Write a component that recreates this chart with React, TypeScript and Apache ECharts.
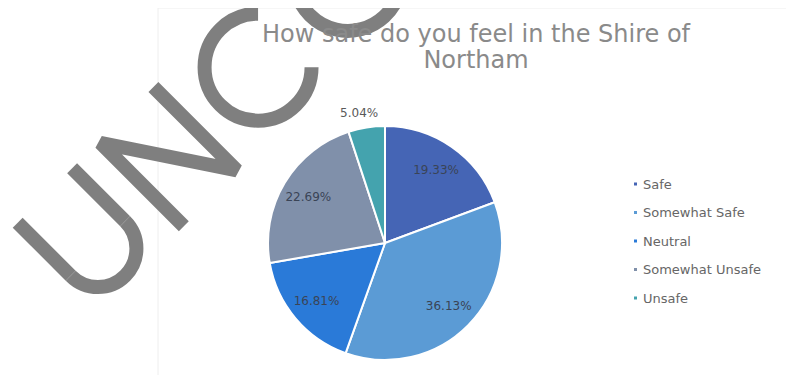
import React, { useEffect, useRef } from "react";
import * as echarts from "echarts";

const titleText = "How safe do you feel in the Shire of\nNortham";
const categories = ["Safe", "Somewhat Safe", "Neutral", "Somewhat Unsafe", "Unsafe"];
const percentages = [19.33, 36.13, 16.81, 22.69, 5.04];
const sliceColors = ["#4565b5", "#5b9bd5", "#2a7ad8", "#8090aa", "#44a3ae"];

const WM = "#7f7f7f";
const WMW = 14;

export default function App() {
  const ref = useRef<HTMLDivElement>(null);
  useEffect(() => {
    if (!ref.current) return;
    const chart = echarts.init(ref.current, undefined, { renderer: "svg" });
    const pieData = categories.map((name, i) => ({
      name,
      value: percentages[i],
      itemStyle: { color: sliceColors[i] },
    }));
    const labelData = categories.map((name, i) => ({
      name,
      value: percentages[i],
      itemStyle: { color: "rgba(0,0,0,0)", borderWidth: 0 },
      label:
        i === categories.length - 1
          ? { position: "outside", color: "#595959" }
          : { position: "inside" },
      labelLine: { show: false, length: 15, length2: 0 },
    }));
    const lineStyle = { stroke: WM, lineWidth: WMW, fill: null, lineCap: "butt", lineJoin: "bevel" };
    chart.setOption({
      animation: false,
      backgroundColor: "#ffffff",
      title: {
        text: titleText,
        left: 471,
        top: 16,
        textAlign: "center",
        textStyle: {
          fontFamily: "DejaVu Sans",
          fontSize: 24,
          lineHeight: 26,
          fontWeight: "normal",
          color: "#8a8a8a",
        },
      },
      legend: {
        data: categories,
        orient: "vertical",
        left: 632,
        top: 177,
        padding: 0,
        itemWidth: 5,
        itemHeight: 5,
        itemGap: 14.5,
        icon: "rect",
        textStyle: { fontFamily: "DejaVu Sans", fontSize: 13, lineHeight: 14, color: "#666666" },
      },
      series: [
        {
          type: "pie",
          center: [385, 243],
          radius: 117,
          startAngle: 90,
          clockwise: true,
          silent: true,
          label: { show: false },
          labelLine: { show: false },
          itemStyle: { borderColor: "#ffffff", borderWidth: 2 },
          data: pieData,
        },
        {
          type: "pie",
          center: [385, 243],
          radius: [56, 117],
          startAngle: 90,
          clockwise: true,
          silent: true,
          avoidLabelOverlap: false,
          label: {
            show: true,
            formatter: "{c}%",
            fontFamily: "DejaVu Sans",
            fontSize: 12,
            color: "#3a4456",
          },
          labelLayout: (p: any) => (p.dataIndex === categories.length - 1 ? { align: "center" } : {}),
          data: labelData,
        },
      ],
      graphic: [
        {
          type: "rect",
          z: -1,
          shape: { x: 158, y: 8, width: 700, height: 500 },
          style: { fill: null, stroke: "#eeeeee", lineWidth: 1 },
          silent: true,
        },
        {
          type: "group",
          x: 0,
          y: 0,
          rotation: Math.PI / 4,
          z: 100,
          silent: true,
          children: [
            { type: "line", shape: { x1: -145, y1: 170, x2: -145, y2: 245 }, style: lineStyle },
            { type: "arc", shape: { cx: -106.5, cy: 245, r: 38.5, startAngle: 0, endAngle: Math.PI, clockwise: true }, style: lineStyle },
            { type: "line", shape: { x1: -68, y1: 245, x2: -68, y2: 170 }, style: lineStyle },
            { type: "polyline", shape: { points: [[-30, 290], [-30, 172], [47, 288], [47, 170]] }, style: lineStyle },
            { type: "arc", shape: { cx: 135, cy: 230, r: 53.5, startAngle: Math.PI / 4, endAngle: (7 * Math.PI) / 4, clockwise: true }, style: lineStyle },
            { type: "circle", shape: { cx: 262, cy: 230, r: 53.5 }, style: lineStyle },
          ],
        },
      ],
    });
    return () => chart.dispose();
  }, []);
  return <div ref={ref} style={{ width: 794, height: 383, margin: -8 }} />;
}
